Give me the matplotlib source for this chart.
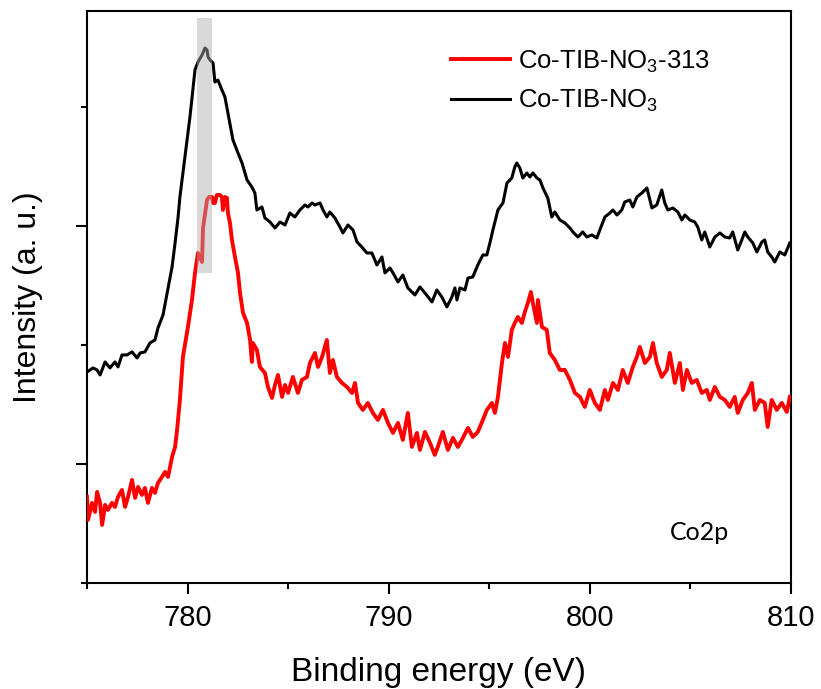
import matplotlib
matplotlib.use('Agg')
import matplotlib.pyplot as plt
from matplotlib.patches import Rectangle
from matplotlib.ticker import FixedLocator, NullFormatter

plt.rcParams['font.family'] = ['Liberation Sans', 'DejaVu Sans']
plt.rcParams['mathtext.fontset'] = 'custom'
plt.rcParams['mathtext.rm'] = 'Liberation Sans'
plt.rcParams['mathtext.default'] = 'regular'

# ── Data: Co2p spectra (binding energy in eV, intensity in a.u.) ──
be_ref = [775.00, 775.15, 775.30, 775.50, 775.65, 775.90, 776.14, 776.39, 776.54, 776.74,
          776.99, 777.24, 777.49, 777.64, 777.88, 778.13, 778.38, 778.53, 778.78, 779.03,
          779.23, 779.38, 779.53, 779.62, 779.87, 780.12, 780.37, 780.52, 780.72, 780.87,
          780.97, 781.02, 781.12, 781.27, 781.36, 781.51, 781.71, 781.86, 782.01, 782.26,
          782.51, 782.71, 782.96, 783.20, 783.35, 783.45, 783.70, 783.85, 784.10, 784.35,
          784.60, 784.85, 785.09, 785.34, 785.59, 785.84, 785.99, 786.19, 786.34, 786.59,
          786.74, 786.93, 787.08, 787.33, 787.58, 787.73, 787.98, 788.23, 788.43, 788.67,
          788.92, 789.17, 789.42, 789.67, 789.82, 790.07, 790.22, 790.47, 790.71, 790.96,
          791.31, 791.56, 791.81, 792.16, 792.40, 792.65, 792.90, 793.15, 793.30, 793.40,
          793.55, 793.80, 793.95, 794.19, 794.44, 794.69, 794.89, 795.04, 795.19, 795.44,
          795.69, 795.89, 796.13, 796.28, 796.38, 796.53, 796.68, 796.88, 797.03, 797.18,
          797.38, 797.53, 797.68, 797.92, 798.12, 798.27, 798.52, 798.77, 799.02, 799.17,
          799.42, 799.66, 799.86, 800.11, 800.36, 800.51, 800.76, 801.01, 801.16, 801.36,
          801.60, 801.75, 802.00, 802.15, 802.35, 802.60, 802.85, 803.10, 803.34, 803.59,
          803.74, 803.89, 804.14, 804.39, 804.59, 804.74, 804.99, 805.23, 805.38, 805.58,
          805.73, 805.98, 806.23, 806.48, 806.73, 806.97, 807.12, 807.37, 807.57, 807.72,
          807.87, 808.12, 808.32, 808.57, 808.71, 808.86, 809.06, 809.21, 809.46, 809.71,
          809.96]
int_ref = [211, 213, 215, 213, 208, 221, 215, 221, 216, 228,
           228, 231, 225, 230, 231, 240, 243, 255, 268, 295,
           316, 340, 366, 386, 426, 466, 513, 521, 528, 535,
           533, 526, 523, 520, 501, 503, 493, 486, 470, 443,
           430, 420, 403, 396, 390, 373, 376, 365, 361, 355,
           361, 358, 370, 366, 373, 378, 376, 380, 378, 380,
           373, 366, 371, 365, 356, 350, 358, 353, 341, 336,
           330, 330, 318, 326, 310, 315, 310, 301, 308, 295,
           288, 296, 290, 281, 293, 286, 276, 286, 295, 283,
           295, 293, 305, 306, 318, 328, 328, 340, 353, 373,
           380, 400, 405, 416, 420, 415, 405, 410, 406, 410,
           405, 403, 395, 385, 366, 371, 363, 360, 355, 351,
           346, 351, 346, 348, 345, 353, 366, 370, 373, 368,
           373, 381, 383, 376, 386, 390, 395, 375, 378, 393,
           380, 373, 375, 371, 363, 368, 363, 361, 356, 343,
           351, 336, 346, 350, 346, 345, 351, 333, 343, 351,
           346, 340, 331, 341, 343, 331, 326, 321, 331, 328,
           340]

be_313 = [775.00, 775.05, 775.25, 775.40, 775.50, 775.65, 775.75, 775.90, 776.04, 776.24,
          776.39, 776.54, 776.74, 776.89, 777.04, 777.24, 777.39, 777.54, 777.73, 777.88,
          778.03, 778.23, 778.38, 778.53, 778.73, 778.88, 779.03, 779.23, 779.38, 779.48,
          779.62, 779.77, 780.02, 780.22, 780.37, 780.52, 780.72, 780.77, 780.97, 781.07,
          781.22, 781.27, 781.36, 781.46, 781.61, 781.71, 781.76, 781.86, 781.96, 782.01,
          782.11, 782.21, 782.36, 782.51, 782.61, 782.76, 782.96, 783.11, 783.20, 783.25,
          783.45, 783.60, 783.85, 784.00, 784.20, 784.35, 784.50, 784.70, 784.85, 785.00,
          785.24, 785.49, 785.69, 785.94, 786.09, 786.34, 786.49, 786.69, 786.93, 787.08,
          787.23, 787.43, 787.68, 787.93, 788.18, 788.33, 788.48, 788.72, 788.97, 789.22,
          789.47, 789.72, 789.97, 790.22, 790.47, 790.71, 790.96, 791.16, 791.41, 791.56,
          791.81, 792.06, 792.30, 792.45, 792.70, 792.95, 793.20, 793.45, 793.70, 793.95,
          794.19, 794.44, 794.69, 794.89, 795.14, 795.29, 795.44, 795.64, 795.79, 795.94,
          796.13, 796.28, 796.43, 796.63, 796.78, 796.93, 797.08, 797.18, 797.38, 797.43,
          797.63, 797.87, 798.02, 798.27, 798.52, 798.77, 799.02, 799.27, 799.52, 799.76,
          800.01, 800.26, 800.51, 800.76, 800.91, 801.16, 801.41, 801.65, 801.90, 802.15,
          802.35, 802.50, 802.75, 803.00, 803.15, 803.34, 803.59, 803.84, 803.99, 804.24,
          804.49, 804.64, 804.84, 805.08, 805.33, 805.58, 805.83, 805.98, 806.23, 806.48,
          806.73, 806.97, 807.22, 807.37, 807.62, 807.87, 808.07, 808.22, 808.47, 808.71,
          808.86, 809.06, 809.31, 809.56, 809.81, 809.96]
int_313 = [86, 63, 80, 71, 91, 80, 58, 78, 73, 80,
           76, 86, 93, 76, 86, 103, 85, 96, 88, 95,
           80, 95, 90, 100, 106, 111, 106, 126, 136, 153,
           183, 226, 256, 283, 310, 330, 321, 355, 383, 386,
           386, 380, 380, 388, 388, 386, 373, 386, 385, 370,
           360, 343, 326, 310, 290, 270, 260, 243, 221, 240,
           233, 216, 210, 196, 185, 198, 208, 186, 198, 190,
           206, 190, 203, 206, 220, 230, 216, 226, 243, 210,
           223, 206, 200, 196, 190, 200, 180, 173, 180, 170,
           163, 173, 160, 150, 160, 143, 170, 136, 150, 133,
           151, 140, 128, 136, 151, 133, 145, 136, 145, 155,
           146, 151, 163, 173, 180, 170, 186, 220, 240, 226,
           253, 260, 266, 260, 271, 280, 291, 280, 260, 283,
           256, 253, 230, 223, 213, 213, 203, 190, 186, 176,
           193, 180, 173, 193, 183, 200, 193, 213, 200, 216,
           226, 236, 220, 226, 240, 220, 206, 213, 230, 200,
           220, 193, 213, 200, 203, 190, 193, 183, 196, 186,
           183, 176, 186, 170, 183, 190, 200, 173, 183, 180,
           156, 183, 173, 180, 171, 186]

labels = [r'Co-TIB-NO$_3$-313', r'Co-TIB-NO$_3$']
x_major = [780, 790, 800, 810]
x_minor = [775, 785, 795, 805]
y_major = [119, 357]
y_minor = [0, 238, 476]

fig = plt.figure(figsize=(8.21, 6.89), dpi=100)
ax = fig.add_axes([0.106, 0.154, 0.857, 0.830])

ax.plot(be_313, int_313, color='#ff0000', lw=2.8, label=labels[0], zorder=3)
ax.plot(be_ref, int_ref, color='black', lw=2.2, label=labels[1], zorder=3)

# highlight band at the Co 2p3/2 main peak
ax.add_patch(Rectangle((780.47, 310), 0.75, 255, facecolor='#aeaeae',
                       edgecolor='none', alpha=0.46, zorder=4))

ax.set_xlim(775, 810)
ax.set_ylim(0, 572)
ax.xaxis.set_major_locator(FixedLocator(x_major))
ax.xaxis.set_minor_locator(FixedLocator(x_minor))
ax.yaxis.set_major_locator(FixedLocator(y_major))
ax.yaxis.set_minor_locator(FixedLocator(y_minor))
ax.yaxis.set_major_formatter(NullFormatter())

for sp in ax.spines.values():
    sp.set_linewidth(1.5)
ax.tick_params(which='major', direction='out', length=8, width=1.5,
               labelsize=21, pad=7)
ax.tick_params(which='minor', direction='out', length=4.5, width=1.5)
ax.tick_params(top=False, right=False)

ax.set_xlabel('Binding energy (eV)', fontsize=24, labelpad=18)
ax.set_ylabel('Intensity (a. u.)', fontsize=23, labelpad=17)

ax.text(0.828, 0.075, 'Co2p', transform=ax.transAxes, fontsize=18,
        family=['Lato', 'DejaVu Sans'], ha='left', va='baseline')

ax.legend(loc='upper left', bbox_to_anchor=(0.499, 0.957), frameon=False,
          fontsize=18.5, handlelength=2.3, handletextpad=0.3,
          labelspacing=0.53, borderpad=0)

fig.savefig('out.png', dpi=100)
